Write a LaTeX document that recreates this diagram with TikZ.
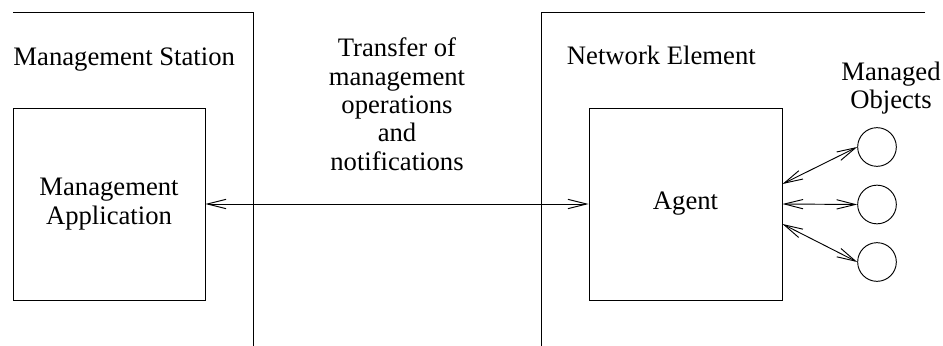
\documentclass[tikz,border=0pt]{standalone}
\usepackage{fontspec}
\setmainfont{Liberation Serif}
\usetikzlibrary{arrows.meta,calc}

\begin{document}
\begin{tikzpicture}[x=0.75pt,y=-0.75pt,
  line width=0.7pt,
  every node/.style={font=\fontsize{20}{21.3}\selectfont},
  label/.style={inner sep=0pt},
  block/.style={draw,rectangle,inner sep=0pt,minimum height=144pt,align=center},
  object/.style={draw,circle,inner sep=0pt,minimum size=29pt},
  biarrow/.style={{Straight Barb[length=14pt,width=7pt]}-{Straight Barb[length=14pt,width=7pt]}}]

  \useasboundingbox (0,0) rectangle (943,346);

  % frames of the two systems
  \draw (13,12.5) -- (253,12.5) -- (253,346);
  \draw (925,12.5) -- (541.5,12.5) -- (541.5,346);

  % titles
  \node[label,anchor=base west] (station) at (13,65.5) {Management Station};
  \node[label,anchor=base west] (element) at (566.5,64.5) {Network Element};
  \node[label,anchor=north,align=center] (transfer) at (397,37.5)
    {Transfer of\\management\\operations\\and\\notifications};
  \node[label,anchor=north,align=center] (objects) at (891,61.5)
    {Managed\\Objects};

  % application and agent
  \node[block,minimum width=144pt] (app) at (109,204) {Management\\Application};
  \node[block,minimum width=144.75pt] (agent) at (685.5,204) {Agent};

  % managed objects
  \node[object] (o1) at (877,147) {};
  \node[object] (o2) at (877,204.5) {};
  \node[object] (o3) at (877,262) {};

  % connectors
  \draw[biarrow] (app.east) -- (agent.west);
  \draw[biarrow] ($(agent.east)+(0,-20)$) -- (o1.west);
  \draw[biarrow] (agent.east) -- (o2.west);
  \draw[biarrow] ($(agent.east)+(0,20)$) -- (o3.west);
\end{tikzpicture}
\end{document}
